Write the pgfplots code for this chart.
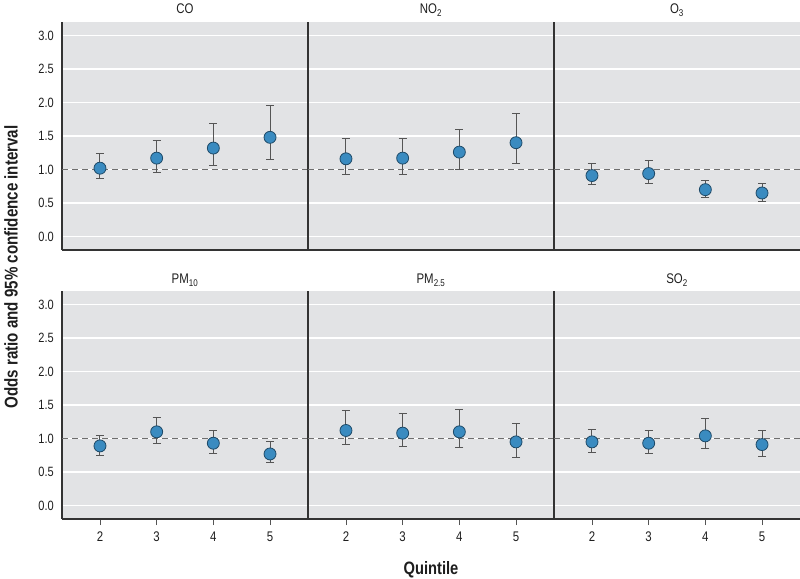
\documentclass[border=0pt]{standalone}
\usepackage{fontspec}
\setmainfont{Liberation Sans}[FakeStretch=0.82]
\usepackage{pgfplots}
\usepackage{pgfplotstable}
\pgfplotsset{compat=1.18}

\definecolor{panelbg}{HTML}{E2E3E5}
\definecolor{dotblue}{HTML}{3A8BC0}
\definecolor{dotedge}{HTML}{1E4A68}
\definecolor{barcol}{HTML}{555555}
\definecolor{sepcol}{HTML}{333333}
\definecolor{txtcol}{HTML}{1E1E1E}

% quintile, odds ratio, lower and upper 95% limits
\pgfplotstableread{
q or lo hi
2 1.02 0.87 1.24
3 1.17 0.96 1.44
4 1.32 1.06 1.68
5 1.48 1.15 1.95
}\co
\pgfplotstableread{
q or lo hi
2 1.16 0.93 1.47
3 1.17 0.93 1.47
4 1.26 1.00 1.60
5 1.40 1.09 1.83
}\notwo
\pgfplotstableread{
q or lo hi
2 0.91 0.77 1.09
3 0.94 0.79 1.13
4 0.70 0.59 0.84
5 0.65 0.53 0.79
}\othree
\pgfplotstableread{
q or lo hi
2 0.89 0.74 1.04
3 1.10 0.93 1.31
4 0.93 0.77 1.12
5 0.77 0.64 0.95
}\pmten
\pgfplotstableread{
q or lo hi
2 1.12 0.91 1.42
3 1.08 0.88 1.37
4 1.10 0.87 1.43
5 0.95 0.71 1.22
}\pmtwofive
\pgfplotstableread{
q or lo hi
2 0.95 0.79 1.14
3 0.93 0.77 1.12
4 1.04 0.85 1.30
5 0.91 0.73 1.12
}\sotwo

\pgfplotsset{
  panel/.style={
    scale only axis, width=246bp, height=228bp,
    anchor=south west,
    xmin=1.33, xmax=5.67, ymin=-0.2, ymax=3.2,
    axis lines*=left,
    axis line style={sepcol, line width=1.2bp},
    axis background/.style={fill=panelbg},
    ytick={0,0.5,...,3},
    ymajorgrids, grid style={white, line width=1.4bp},
    ytick style={draw=none},
    xtick={2,3,4,5},
    /pgf/number format/assume math mode=true,
    yticklabel style={/pgf/number format/fixed, /pgf/number format/fixed zerofill,
      /pgf/number format/precision=1, font=\fontsize{13.5}{14}\selectfont,
      inner sep=0pt, xshift=-8bp, text=txtcol},
  },
  toprow/.style={xticklabels={}, xtick style={draw=none}},
  botrow/.style={xtick align=outside, major tick length=6bp,
    xtick style={barcol, line width=0.9bp},
    xticklabel style={font=\fontsize{14}{14}\selectfont, inner sep=0pt, yshift=-7bp, text=txtcol}},
  othercol/.style={yticklabels={}},
  refline/.style={barcol!85, line width=1bp, dash pattern=on 6bp off 4bp},
  ordots/.style={only marks, mark=*, mark size=6bp,
    mark options={fill=dotblue, draw=dotedge, line width=0.8bp},
    error bars/.cd, y dir=both, y explicit,
    error bar style={barcol, line width=1bp},
    error mark options={rotate=90, barcol, mark size=4bp, line width=1bp}},
}

\newcommand{\panelplot}[1]{%
  \addplot[refline] coordinates {(1.33,1) (5.67,1)};
  \addplot[ordots] table[x=q, y=or,
    y error plus expr=\thisrow{hi}-\thisrow{or},
    y error minus expr=\thisrow{or}-\thisrow{lo}] {#1};
}

\begin{document}
\begin{tikzpicture}
\path[use as bounding box] (0,0) rectangle (800bp,579bp);

\begin{axis}[panel, toprow, at={(62bp,329bp)}]
\panelplot{\co}
\end{axis}
\begin{axis}[panel, toprow, othercol, at={(308bp,329bp)}]
\panelplot{\notwo}
\end{axis}
\begin{axis}[panel, toprow, othercol, at={(554bp,329bp)}]
\panelplot{\othree}
\end{axis}

\begin{axis}[panel, botrow, at={(62bp,60bp)}]
\panelplot{\pmten}
\end{axis}
\begin{axis}[panel, botrow, othercol, at={(308bp,60bp)}]
\panelplot{\pmtwofive}
\end{axis}
\begin{axis}[panel, botrow, othercol, at={(554bp,60bp)}]
\panelplot{\sotwo}
\end{axis}

% panel titles
\begin{scope}[every node/.style={anchor=base, text=txtcol, font=\fontsize{14}{14}\selectfont}]
\node at (185bp,565bp) {CO};
\node at (431bp,565bp) {NO\textsubscript{2}};
\node at (677bp,565bp) {O\textsubscript{3}};
\node at (185bp,295bp) {PM\textsubscript{10}};
\node at (431bp,295bp) {PM\textsubscript{2.5}};
\node at (677bp,295bp) {SO\textsubscript{2}};
\end{scope}

\node[rotate=90, font=\bfseries\fontsize{18.5}{19}\selectfont, text=txtcol]
  at (11bp,312bp) {Odds ratio and 95\% confidence interval};
\node[anchor=base, font=\bfseries\fontsize{18}{18}\selectfont, text=txtcol]
  at (431bp,5bp) {Quintile};
\end{tikzpicture}
\end{document}
